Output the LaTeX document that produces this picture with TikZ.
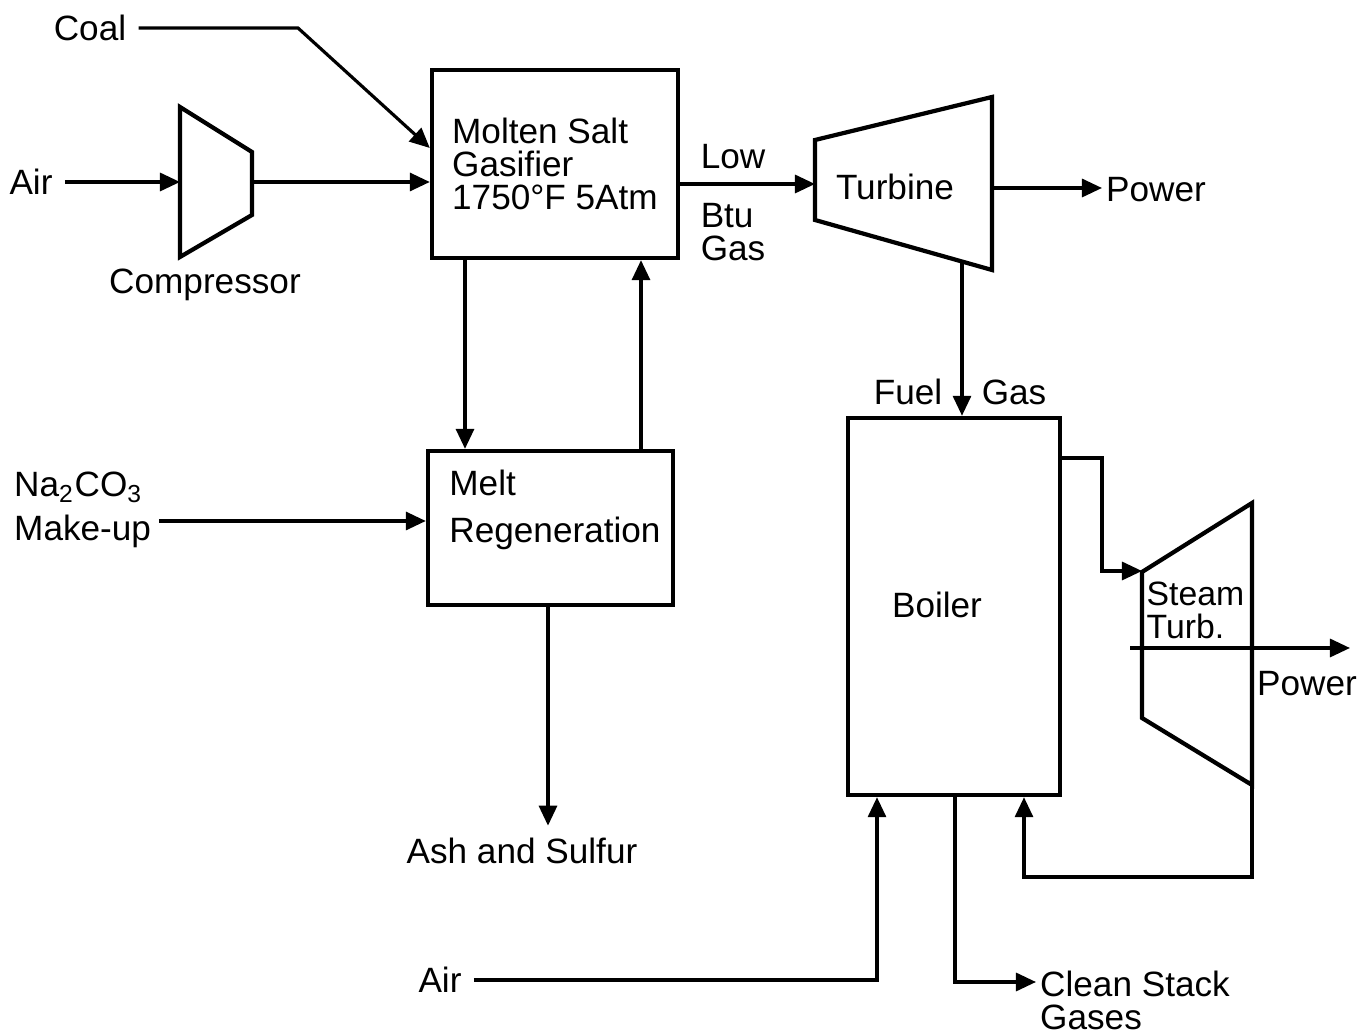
\documentclass[tikz,border=0pt]{standalone}
\usepackage{fontspec}
\setmainfont{Liberation Sans}
\usetikzlibrary{arrows.meta,positioning,calc}
\tikzset{
  >={Triangle[length=2mm,width=1.8mm]},
  unit/.style={draw,line width=1.2pt,inner sep=0pt},
  flow/.style={->,line width=0.9pt},
  txt/.style={font=\fontsize{10}{9.4}\selectfont,align=left},
}
\begin{document}
\begin{tikzpicture}[x=0.01cm,y=-0.01cm]
  \useasboundingbox (0,0) rectangle (1369,1034);
  % main blocks
  \node[unit,minimum width=2.46cm,minimum height=1.88cm,txt] (gas) at (555,164)
    {Molten Salt\\Gasifier\\1750°F 5Atm};
  \node[unit,minimum width=2.45cm,minimum height=1.54cm] (regen) at (550.5,528) {};
  \node[txt] (regentxt) at (555,510) {Melt\\[4pt]Regeneration};
  \node[unit,minimum width=2.12cm,minimum height=3.77cm] (boiler) at (954,606.5) {};
  \node[txt] (boilertxt) at (937,605) {Boiler};
  % machines
  \draw[line width=1.2pt] (180,107) -- (252,152) -- (252,215) -- (180,257) -- cycle;
  \coordinate (cmpin) at (180,182);
  \coordinate (cmpout) at (252,182);
  \node[txt] (cmp) at (205,285) {Compressor};
  \draw[line width=1.2pt] (815,140) -- (992,97) -- (992,270) -- (815,220) -- cycle;
  \coordinate (turbin) at (815,184);
  \coordinate (turbout) at (992,188);
  \coordinate (turbbot) at (962,261.5);
  \node[txt] (turb) at (895,187) {Turbine};
  \draw[line width=1.2pt] (1142,572) -- (1252,503) -- (1252,785) -- (1142,718) -- cycle;
  \coordinate (stin) at (1142,571);
  \coordinate (stbot) at (1252,785);
  \node[txt,anchor=west,inner sep=0pt,font=\fontsize{9.6}{9.4}\selectfont] (st) at (1146,610) {Steam\\Turb.};
  % stream labels
  \node[txt] (coal) at (90,28) {Coal};
  \node[txt] (air1) at (31,182) {Air};
  \node[txt] (low) at (733,157) {Low};
  \node[txt] (btu) at (733,232) {Btu\\Gas};
  \node[txt,inner sep=1pt,anchor=west] (pow1) at (1102,190) {Power};
  \node[txt] (fuel) at (908,392) {Fuel};
  \node[txt] (fgas) at (1014,392) {Gas};
  \node[txt,anchor=west,inner sep=1pt] (na) at (10,510) {Na\textsubscript{2}CO\textsubscript{3}\\[3pt]Make-up};
  \node[txt] (ash) at (522,851) {Ash and Sulfur};
  \node[txt] (pow2) at (1307,684) {Power};
  \node[txt] (air2) at (440,980) {Air};
  \node[txt,anchor=west,inner sep=1pt] (stack) at (1036,1000) {Clean Stack\\Gases};
  % connectors
  \draw[flow] (air1.east) -- (cmpin);
  \draw[flow] (cmpout) -- (cmpout -| gas.west);
  \draw[flow] (coal.east) -- (298,28) -- (gas.west |- 0,148);
  \draw[flow] (gas.east |- 0,184) -- (turbin);
  \draw[flow] (turbout) -- (turbout -| pow1.west);
  \draw[flow] (turbbot) -- (turbbot |- boiler.north);
  \draw[flow] (gas.south -| 465,0) -- (regen.north -| 465,0);
  \draw[flow] (regen.north -| 641,0) -- (gas.south -| 641,0);
  \draw[flow] ([xshift=1pt]na.east |- 0,521) -- (regen.west |- 0,521);
  \draw[flow] (regen.south -| 548,0) -- (ash.north -| 548,0);
  \draw[flow] (boiler.east |- 0,458) -- (1102,458) -- (1102,571) -- (stin);
  \draw[flow] (1130,648) -- (1350,648);
  \draw[flow] (stbot) -- (1252,877) -- (1024,877) -- (boiler.south -| 1024,0);
  \draw[flow] (air2.east) -- (air2.east -| 877,0) -- (boiler.south -| 877,0);
  \draw[flow] (boiler.south -| 955,0) -- (955,982) -- (stack.west |- 0,982);
\end{tikzpicture}
\end{document}
